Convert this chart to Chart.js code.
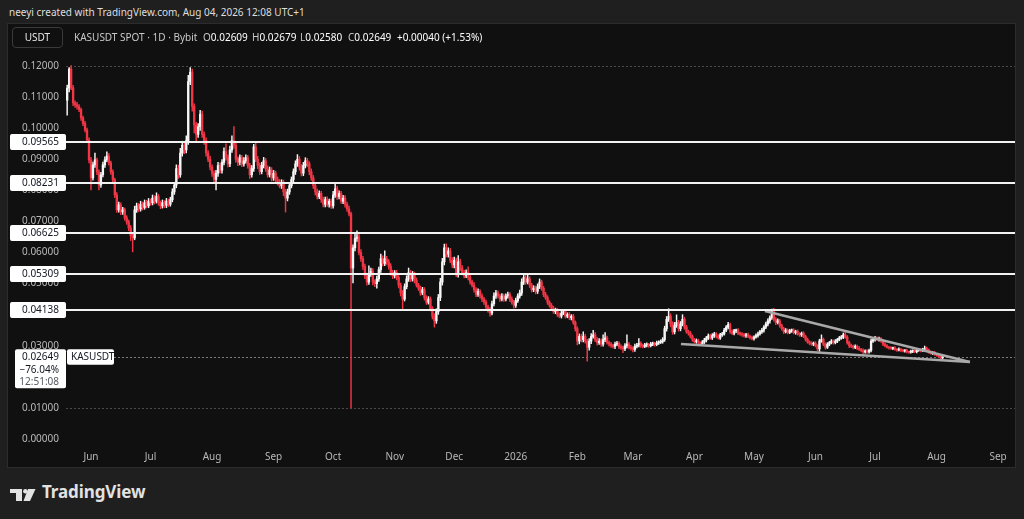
<!DOCTYPE html>
<html lang="en">
  <head>
    <meta charset="UTF-8" />
    <title>KASUSDT 1D</title>
    <script src="https://cdn.jsdelivr.net/npm/chart.js"></script>
    <style>
      html, body {
        margin: 0;
        padding: 0;
        width: 1024px;
        height: 519px;
        overflow: hidden;
        background: #1f1f1f;
        font-family: "Noto Sans", sans-serif;
      }
      .abs { position: absolute; white-space: nowrap; }
      .credit { left: 9px; top: 5px; font-size: 10px; line-height: 14px; color: #dedede; }
      .frame {
        left: 7px; top: 23px; width: 1007px; height: 443px;
        border: 1px solid #2c2c2c; background: #101010;
      }
      #chart { position: absolute; left: 8px; top: 24px; }
      .unit {
        left: 12px; top: 27px; width: 49px; height: 19px;
        border: 1px solid #3a3a3a; border-radius: 4px;
        color: #e6e6e6; font-size: 10px; line-height: 19px; padding-left: 0;
        text-align: center; z-index: 2;
      }
      .legend { top: 30px; font-size: 10px; line-height: 14px; color: #c9c9c9; z-index: 2; }
      .legend b { font-weight: normal; color: #ffffff; }
      .logo { left: 10px; top: 484px; color: #e2e2e2; }
      .logo span { position: absolute; left: 32px; top: -4px; font-size: 17px; font-weight: bold; letter-spacing: -0.1px; }
    </style>
  </head>
  <body>
    <div class="abs credit">neeyi created with TradingView.com, Aug 04, 2026 12:08 UTC+1</div>
    <div class="abs frame"></div>
    <canvas id="chart" width="1007" height="443"></canvas>
    <div class="abs unit">USDT</div>
    <div class="abs legend" style="left: 74px">KASUSDT SPOT · 1D · Bybit</div>
    <div class="abs legend" style="left: 203px">O<b>0.02609</b></div>
    <div class="abs legend" style="left: 252px">H<b>0.02679</b></div>
    <div class="abs legend" style="left: 300px">L<b>0.02580</b></div>
    <div class="abs legend" style="left: 348px">C<b>0.02649</b></div>
    <div class="abs legend" style="left: 397px"><b>+0.00040 (+1.53%)</b></div>
    <div class="abs logo">
      <svg width="28" height="14" viewBox="0 0 28 14">
        <path d="M0 2h12v12H6V6H0z" fill="#e2e2e2" />
        <circle cx="15.3" cy="4.2" r="2.2" fill="#e2e2e2" />
        <path d="M18 2h7.5l-5.5 12h-6.5z" fill="#e2e2e2" />
      </svg>
      <span>TradingView</span>
    </div>

    <script>
      // daily candles, prices in units of 0.00001 USDT, first candle = 20 May 2025
      const firstDay = -12; // days from 1 Jun 2025
      const firstOpen = 10900;

      const closes = [
        11290, 11900, 11300, 10810, 10750, 10700, 10600, 10330, 10150, 9940,
        9620, 8980, 8400, 8820, 8980, 8590, 8170, 8500, 8820, 8980,
        9100, 8880, 8590, 8335, 7850, 7370, 7530, 7306, 7370, 7113,
        6985, 6790, 6535, 6470, 7370, 7500, 7400, 7550, 7450, 7600,
        7500, 7650, 7600, 7750, 7650, 7800, 7600, 7500, 7600, 7520,
        7650, 7550, 7700, 7950, 8170, 8700, 8500, 9200, 9450, 9300,
        9600, 11500, 11800, 10700, 10100, 9800, 10050, 10450, 9800, 9600,
        9200, 9000, 8750, 8550, 8350, 8550, 8800, 8650, 8900, 9250,
        9050, 8850, 9300, 9600, 9450, 9000, 8900, 9050, 8850, 8950,
        9050, 8800, 8500, 8700, 9400, 9000, 8800, 8600, 8800, 8950,
        8700, 8500, 8650, 8400, 8550, 8350, 8250, 8150, 8250, 7950,
        7750, 7950, 8150, 8350, 8600, 8850, 9000, 8750, 8550, 8800,
        8950, 8850, 8600, 8400, 8150, 7950, 7800, 7900, 7700, 7550,
        7700, 7550, 7650, 7500, 7850, 8050, 7800, 7900, 7650, 7750,
        7550, 7400, 7250, 5500, 6150, 6450, 6500, 6000, 5800, 5550,
        5250, 5050, 5300, 5400, 5050, 5000, 5150, 5450, 5800, 5650,
        5800, 5700, 5550, 5350, 5250, 5350, 5200, 4950, 4700, 4500,
        4900, 5150, 5350, 5150, 5300, 5100, 4950, 4850, 4700, 4800,
        4550, 4400, 4500, 4200, 3950, 3800, 4100, 4550, 5050, 5700,
        6150, 5950, 6050, 5750, 5600, 5750, 5300, 5700, 5500, 5350,
        5250, 5350, 5200, 5050, 4950, 4800, 4650, 4750, 4600, 4500,
        4400, 4250, 4150, 4050, 4350, 4600, 4700, 4600, 4500, 4600,
        4500, 4600, 4650, 4500, 4400, 4300, 4450, 4600, 4700, 5050,
        5200, 5050, 5150, 4950, 4800, 4850, 4750, 4900, 5050, 4850,
        4650, 4550, 4400, 4300, 4200, 4100, 4150, 4000, 3950, 4050,
        4100, 3950, 4000, 3900, 3950, 3750, 3550, 3150, 3300, 3200,
        3300, 3150, 2950, 3150, 3300, 3350, 3200, 3100, 3150, 3050,
        3200, 3250, 3100, 3050, 3000, 2980, 3050, 3080, 2970, 2930,
        2900, 3000, 3050, 2950, 2920, 2880, 2980, 3020, 3080, 3000,
        2980, 3020, 3040, 3000, 3050, 3070, 3040, 3090, 3110, 3130,
        3200, 3550, 3850, 3950, 3700, 3450, 3650, 3750, 3550, 3700,
        3850, 3600, 3450, 3400, 3300, 3200, 3130, 3160, 3090, 3070,
        3120, 3180, 3250, 3320, 3250, 3330, 3380, 3300, 3250, 3350,
        3380, 3500, 3600, 3680, 3450, 3400, 3480, 3500, 3400, 3380,
        3350, 3320, 3360, 3300, 3260, 3230, 3280, 3330, 3380, 3450,
        3500, 3600, 3700, 3800, 3900, 4100, 3850, 3750, 3800, 3650,
        3550, 3450, 3500, 3430, 3480, 3500, 3420, 3460, 3380, 3350,
        3400, 3300, 3200, 3120, 3080, 3050, 3080, 3000, 2900, 3150,
        3200, 3050, 2950, 3050, 3100, 3150, 3100, 3150, 3200, 3250,
        3280, 3350, 3280, 3100, 3000, 2980, 2950, 2980, 2920, 2880,
        2850, 2800, 2830, 2800, 2850, 3150, 3200, 3250, 3200, 3230,
        3150, 3050, 3000, 2950, 2930, 2910, 2930, 2880, 2860, 2890,
        2850, 2830, 2850, 2800, 2790, 2820, 2840, 2810, 2850, 2870,
        2840, 2880, 2920, 2870, 2800, 2760, 2780, 2720, 2700, 2660,
        2609, 2649,
      ];

      // wick length above / below the body, same units
      const wickUp = [
        100, 50, 110, 80, 70, 80, 60, 50, 60, 70,
        60, 70, 80, 90, 220, 60, 70, 80, 90, 100,
        140, 80, 60, 70, 60, 80, 90, 70, 80, 60,
        70, 60, 80, 60, 120, 90, 80, 100, 70, 90,
        80, 90, 70, 100, 80, 120, 70, 60, 90, 70,
        90, 70, 80, 100, 90, 120, 110, 150, 130, 100,
        150, 200, 150, 100, 80, 90, 100, 120, 100, 80,
        90, 80, 100, 70, 80, 90, 100, 80, 90, 120,
        250, 90, 120, 150, 450, 100, 80, 90, 80, 100,
        90, 80, 70, 100, 80, 120, 90, 80, 100, 110,
        80, 90, 100, 80, 90, 70, 80, 100, 90, 80,
        80, 90, 100, 80, 90, 100, 150, 90, 80, 100,
        100, 80, 70, 90, 80, 70, 90, 80, 70, 80,
        80, 90, 70, 80, 120, 190, 90, 80, 70, 90,
        80, 70, 90, 50, 100, 200, 200, 100, 90, 80,
        80, 90, 270, 100, 80, 70, 90, 80, 150, 90,
        250, 80, 70, 90, 80, 70, 80, 60, 70, 80,
        90, 100, 150, 80, 90, 70, 80, 60, 70, 80,
        70, 60, 80, 70, 60, 80, 90, 100, 120, 110,
        120, 130, 100, 80, 90, 100, 70, 200, 90, 80,
        80, 90, 190, 70, 60, 80, 70, 80, 60, 70,
        60, 70, 60, 80, 90, 100, 80, 70, 60, 80,
        60, 70, 80, 60, 70, 60, 80, 70, 90, 100,
        110, 80, 140, 70, 60, 80, 70, 90, 100, 60,
        60, 70, 60, 50, 60, 70, 60, 50, 60, 70,
        60, 50, 60, 70, 50, 60, 50, 60, 80, 70,
        150, 70, 60, 80, 90, 150, 70, 60, 80, 70,
        150, 170, 60, 50, 60, 50, 70, 60, 50, 60,
        60, 70, 300, 50, 60, 50, 70, 60, 150, 50,
        50, 60, 50, 40, 60, 50, 40, 60, 50, 60,
        60, 80, 90, 240, 80, 70, 100, 245, 70, 80,
        150, 70, 60, 50, 60, 50, 40, 60, 50, 40,
        50, 60, 50, 60, 50, 60, 50, 40, 60, 50,
        50, 60, 50, 70, 50, 60, 50, 40, 50, 40,
        40, 50, 40, 50, 40, 50, 40, 50, 60, 50,
        60, 50, 60, 70, 60, 80, 100, 60, 70, 50,
        50, 40, 50, 40, 50, 40, 50, 40, 50, 40,
        40, 50, 40, 50, 40, 50, 40, 50, 40, 60,
        150, 50, 40, 50, 40, 50, 40, 50, 40, 50,
        50, 60, 100, 50, 40, 50, 40, 50, 40, 50,
        40, 50, 40, 50, 40, 60, 50, 50, 40, 50,
        30, 40, 50, 40, 30, 40, 30, 40, 30, 40,
        30, 40, 30, 40, 30, 40, 30, 40, 30, 40,
        30, 40, 70, 40, 30, 40, 30, 40, 30, 40,
        30, 30,
      ];
      const wickDn = [
        480, 120, 60, 90, 80, 90, 70, 80, 70, 60,
        80, 100, 390, 70, 80, 90, 160, 80, 70, 80,
        60, 70, 80, 60, 90, 80, 70, 90, 80, 70,
        80, 90, 150, 450, 60, 80, 90, 70, 80, 60,
        70, 60, 80, 70, 90, 60, 80, 90, 70, 80,
        80, 70, 60, 70, 80, 90, 120, 80, 100, 120,
        100, 120, 100, 150, 250, 240, 100, 120, 100, 120,
        100, 80, 90, 100, 120, 340, 100, 90, 100, 80,
        80, 100, 90, 80, 100, 90, 110, 80, 90, 70,
        80, 90, 120, 80, 90, 80, 100, 90, 70, 80,
        90, 80, 70, 100, 80, 90, 80, 70, 90, 120,
        450, 90, 80, 70, 80, 90, 80, 100, 90, 80,
        80, 90, 100, 80, 90, 100, 80, 70, 90, 80,
        80, 70, 90, 80, 70, 80, 90, 80, 70, 80,
        90, 80, 70, 4500, 480, 100, 90, 80, 90, 100,
        90, 100, 80, 70, 90, 100, 150, 80, 90, 80,
        70, 80, 90, 80, 90, 70, 80, 90, 100, 350,
        60, 70, 80, 90, 70, 80, 60, 70, 80, 60,
        80, 70, 60, 80, 90, 200, 80, 90, 100, 100,
        100, 90, 100, 80, 90, 100, 80, 90, 80, 70,
        70, 60, 80, 70, 60, 80, 70, 60, 70, 80,
        70, 60, 70, 100, 60, 70, 80, 60, 70, 60,
        70, 60, 70, 80, 60, 90, 70, 60, 70, 80,
        80, 70, 60, 80, 70, 60, 80, 70, 60, 70,
        70, 60, 70, 60, 50, 60, 70, 60, 50, 60,
        50, 60, 50, 60, 70, 60, 80, 120, 90, 80,
        80, 70, 450, 90, 80, 60, 70, 80, 60, 70,
        60, 70, 50, 60, 50, 60, 70, 50, 60, 50,
        120, 60, 70, 50, 60, 80, 60, 50, 60, 50,
        50, 40, 60, 50, 40, 50, 60, 40, 50, 40,
        50, 60, 80, 70, 90, 80, 70, 60, 80, 70,
        60, 70, 50, 60, 50, 60, 40, 50, 60, 50,
        40, 50, 60, 50, 40, 50, 60, 50, 40, 50,
        50, 40, 50, 60, 50, 40, 50, 60, 40, 50,
        50, 40, 50, 40, 50, 40, 50, 40, 50, 40,
        50, 60, 50, 60, 70, 50, 60, 70, 50, 60,
        50, 60, 40, 50, 40, 50, 40, 50, 40, 50,
        50, 40, 50, 40, 50, 40, 50, 40, 60, 85,
        40, 50, 60, 40, 50, 40, 50, 40, 50, 40,
        40, 50, 40, 50, 60, 40, 50, 40, 50, 40,
        50, 60, 40, 50, 40, 50, 40, 50, 40, 50,
        40, 50, 40, 30, 40, 30, 40, 30, 40, 30,
        40, 30, 40, 30, 40, 30, 40, 30, 40, 30,
        40, 30, 40, 30, 40, 30, 40, 30, 40, 30,
        30, 29,
      ];

      // axis ticks
      const monthDays = [0, 30, 61, 92, 122, 153, 183, 214, 245, 273, 304, 334, 365, 395, 426, 457];
      const monthLabels = ["Jun", "Jul", "Aug", "Sep", "Oct", "Nov", "Dec", "2026", "Feb", "Mar", "Apr", "May", "Jun", "Jul", "Aug", "Sep"];
      const priceTicks = [0, 0.01, 0.02, 0.03, 0.04, 0.05, 0.06, 0.07, 0.08, 0.09, 0.1, 0.11, 0.12];

      // drawn levels
      const levels = [0.09565, 0.08231, 0.06625, 0.05309, 0.04138];
      const rangeMarks = [0.12, 0.01];
      const lastPrice = 0.02649;
      const lastChange = "\u221276.04%";
      const countdown = "12:51:08";
      const wedgeUpper = [{ x: 339.5, y: 0.0412 }, { x: 442.8, y: 0.0248 }];
      const wedgeLower = [{ x: 297.2, y: 0.0306 }, { x: 442.8, y: 0.0248 }];

      const UP = "#f7f7f7";
      const DOWN = "#f23645";
      const TEXT = "#b8b8b8";
      const FONT = { family: "Noto Sans", size: 10 };

      const opens = closes.map((c, i) => (i === 0 ? firstOpen : closes[i - 1]));
      const wickData = [];
      const bodyData = [];
      const candleColors = [];
      closes.forEach((c, i) => {
        const o = opens[i];
        const day = firstDay + i;
        const hi = Math.max(o, c) + wickUp[i];
        const lo = Math.min(o, c) - wickDn[i];
        wickData.push({ x: day, y: [lo / 1e5, hi / 1e5] });
        bodyData.push({ x: day, y: [o / 1e5, c / 1e5] });
        candleColors.push(c >= o ? UP : DOWN);
      });

      function box(ctx, x, y, w, h) {
        ctx.beginPath();
        ctx.roundRect(x, y, w, h, 2);
        ctx.fillStyle = "#ffffff";
        ctx.fill();
      }

      const overlay = {
        id: "overlay",
        beforeDatasetsDraw(chart) {
          const { ctx, chartArea: a, scales } = chart;
          const y = scales.y;
          ctx.save();
          ctx.lineWidth = 1;
          ctx.setLineDash([2, 2]);
          ctx.strokeStyle = "#4a4a4a";
          rangeMarks.forEach((p) => {
            const py = Math.round(y.getPixelForValue(p)) + 0.5;
            ctx.beginPath();
            ctx.moveTo(58, py);
            ctx.lineTo(a.right, py);
            ctx.stroke();
          });
          ctx.strokeStyle = "#7c7c7c";
          const lp = Math.round(y.getPixelForValue(lastPrice)) + 0.5;
          ctx.beginPath();
          ctx.moveTo(106, lp);
          ctx.lineTo(a.right, lp);
          ctx.stroke();
          ctx.restore();
        },
        afterDatasetsDraw(chart) {
          const { ctx, chartArea: a, scales } = chart;
          ctx.save();
          ctx.strokeStyle = "#f2f2f2";
          ctx.lineWidth = 2;
          levels.forEach((p) => {
            const py = Math.round(scales.y.getPixelForValue(p));
            ctx.beginPath();
            ctx.moveTo(a.left, py);
            ctx.lineTo(a.right, py);
            ctx.stroke();
          });
          ctx.restore();
        },
        afterDraw(chart) {
          const { ctx, scales } = chart;
          const y = scales.y;
          ctx.save();
          ctx.font = "10px 'Noto Sans'";
          ctx.textBaseline = "middle";
          levels.forEach((p) => {
            const py = Math.round(y.getPixelForValue(p));
            box(ctx, 2, py - 8, 56, 16);
            ctx.fillStyle = "#131722";
            ctx.textAlign = "right";
            ctx.fillText(p.toFixed(5), 51, py);
          });
          const lp = y.getPixelForValue(lastPrice);
          box(ctx, 7, lp - 7.5, 51, 39);
          box(ctx, 59, lp - 7.5, 47, 15.5);
          ctx.textAlign = "right";
          ctx.fillStyle = "#131722";
          ctx.fillText(lastPrice.toFixed(5), 51, lp + 0.5);
          ctx.fillText(lastChange, 51, lp + 13);
          ctx.fillStyle = "#555861";
          ctx.fillText(countdown, 51, lp + 25);
          ctx.textAlign = "left";
          ctx.fillStyle = "#131722";
          ctx.fillText("KASUSDT", 63, lp + 0.5);
          ctx.restore();
        },
      };

      const ctx = document.getElementById("chart").getContext("2d");

      const kasChart = new Chart(ctx, {
        type: "bar",
        data: {
          datasets: [
            {
              label: "wicks",
              data: wickData,
              backgroundColor: candleColors,
              barThickness: 0.8,
              grouped: false,
              borderWidth: 0,
              order: 2,
            },
            {
              label: "bodies",
              data: bodyData,
              backgroundColor: candleColors,
              barThickness: 1.7,
              minBarLength: 1,
              grouped: false,
              borderWidth: 0,
              order: 1,
            },
            {
              type: "line",
              label: "wedge upper",
              data: wedgeUpper,
              borderColor: "#a9a9a9",
              borderWidth: 2.5,
              pointRadius: 0,
              order: 0,
            },
            {
              type: "line",
              label: "wedge lower",
              data: wedgeLower,
              borderColor: "#a9a9a9",
              borderWidth: 2.5,
              pointRadius: 0,
              order: 0,
            },
          ],
        },
        options: {
          responsive: false,
          animation: false,
          devicePixelRatio: 1,
          layout: { padding: { left: 0, right: 0, top: 26, bottom: 0 } },
          plugins: { legend: { display: false }, tooltip: { enabled: false } },
          scales: {
            x: {
              type: "linear",
              min: -14.1,
              max: 465.5,
              offset: false,
              grid: { display: false, drawTicks: false, offset: false },
              border: { display: false },
              afterBuildTicks: (s) => {
                s.ticks = monthDays.map((v) => ({ value: v }));
              },
              afterFit: (s) => {
                s.height = 19;
              },
              ticks: {
                autoSkip: false,
                maxRotation: 0,
                padding: 3,
                color: TEXT,
                font: FONT,
                callback: (v, i) => monthLabels[i],
              },
            },
            y: {
              type: "linear",
              position: "left",
              min: -0.002895,
              max: 0.125147,
              grid: { display: false, drawTicks: false },
              border: { display: false },
              afterBuildTicks: (s) => {
                s.ticks = priceTicks.map((v) => ({ value: v }));
              },
              afterFit: (s) => {
                s.width = 55;
              },
              ticks: {
                autoSkip: false,
                padding: 4,
                color: TEXT,
                font: FONT,
                callback: (v) => v.toFixed(5),
              },
            },
          },
        },
        plugins: [overlay],
      });
    </script>
  </body>
</html>
